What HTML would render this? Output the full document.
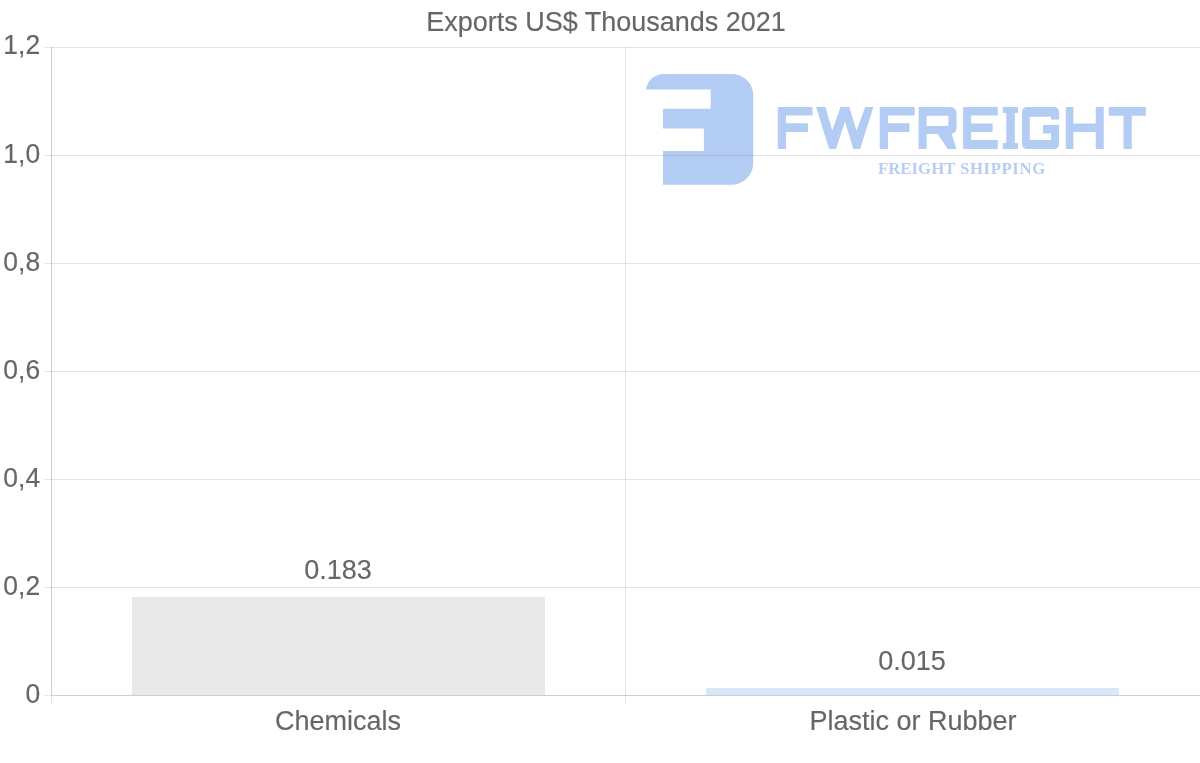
<!DOCTYPE html>
<html>
<head>
<meta charset="utf-8">
<title>Exports US$ Thousands 2021</title>
<style>
  html, body { margin: 0; padding: 0; background: #ffffff; }
  body { width: 1200px; height: 763px; position: relative; overflow: hidden;
         font-family: "Liberation Sans", sans-serif; color: #666666; }
  .t { position: absolute; white-space: nowrap; font-size: 27px; line-height: 30px; color: #666666; will-change: transform; -webkit-text-stroke: 0.15px #666666; }
  .yl { left: 0; width: 40.2px; text-align: right; font-size: 26.5px; transform: scaleY(1.03); transform-origin: 50% 80%; }
  .c { transform: translateX(-50%); }
  svg { position: absolute; left: 0; top: 0; }
  .sub { position: absolute; left: 878px; top: 157.5px; font-family: "Liberation Serif", serif; font-weight: bold;
          font-size: 16.8px; line-height: 22px; color: #b8cdf3; white-space: nowrap; letter-spacing: 0px; will-change: transform; }
</style>
</head>
<body>

<!-- watermark logo (under grid) -->
<svg width="1200" height="763" viewBox="0 0 1200 763">
  <g fill="#b3ccf4">
    <path d="M646.2,89.4 C647.2,80.6 654.6,74.1 663.6,74.1 H731.8 C743.6,74.1 753.3,83.6 753.3,95.4 V162.4 C753.3,174.7 743.6,184.7 731.6,184.7 H663 V150.9 H703.9 V128.6 H663 V108.8 H710.7 V89.4 Z"/>
    <path fill-rule="evenodd" d="M777.8,106.9H812.5V115.5H786.0V123.3H807.9V132.1H786.0V148.9H777.8Z M816.1,106.9L825.5,106.9L832.2,130.6L840.6,106.9L849.3,106.9L856.5,130.6L865.2,106.9L873.4,106.9L860.1,148.9L853.3,148.9L845.0,121.6L836.0,148.9L829.1,148.9Z M879.7,106.9H914.7V115.5H888.0V123.3H909.5V132.1H888.0V148.9H879.7Z M918.6,106.9H949.6Q956.6,106.9 956.6,113.9V127.4Q956.6,132.6 951.6,133.8L956.5,148.9H947.8L937.6,134.1H926.6V148.9H918.6ZM926.6,115.8V125.9H947.4Q948.4,125.9 948.4,124.9V116.8Q948.4,115.8 947.4,115.8Z M963.1,106.9H997.8V115.4H971.1V123.6H992.6V131.9H971.1V140.1H997.8V148.9H963.1Z M1002.8,106.9H1018V113H1014.8V143.1H1018V148.9H1002.8V143.1H1006.3V113H1002.8Z M1027.5,106.9H1053.6Q1059.1,106.9 1059.1,112.4V119.5H1051V116.7H1029.8V139.9H1051V133.5H1043V124.9H1059.1V143.4Q1059.1,148.9 1053.6,148.9H1027.5Q1022,148.9 1022,143.4V112.4Q1022,106.9 1027.5,106.9Z M1065.8,106.9H1073.4V123.5H1095.7V106.9H1103.7V148.9H1095.7V132.1H1073.4V148.9H1065.8Z M1108.8,106.9H1145.9V115.7H1131.8V148.9H1123.5V115.7H1108.8Z"/>
  </g>
</svg>
<div class="sub">FREIGHT <span style="letter-spacing:0.57px; margin-left:0.8px;">SHIPPING</span></div>

<!-- grid, axes, bars -->
<svg width="1200" height="763" viewBox="0 0 1200 763" shape-rendering="crispEdges">
  <g fill="#000000" fill-opacity="0.1">
    <rect x="44" y="47" width="1156" height="1"/>
    <rect x="44" y="155" width="1156" height="1"/>
    <rect x="44" y="263" width="1156" height="1"/>
    <rect x="44" y="371" width="1156" height="1"/>
    <rect x="44" y="479" width="1156" height="1"/>
    <rect x="44" y="587" width="1156" height="1"/>
    <rect x="44" y="695" width="7" height="1"/>
    <rect x="625" y="47" width="1" height="657"/>
    <rect x="51" y="696" width="1" height="8"/>
  </g>
  <g fill="#000000" fill-opacity="0.19">
    <rect x="51" y="47" width="1" height="649"/>
    <rect x="52" y="695" width="1148" height="1"/>
  </g>
  <rect x="132" y="597" width="413" height="98" fill="#e8e8e8"/>
  <rect x="706" y="688" width="413" height="7" fill="#d7e8fb"/>
</svg>

<!-- title -->
<div class="t c" style="left:606px; top:6.5px;">Exports US$ Thousands 2021</div>

<!-- y labels -->
<div class="t yl" style="top:30.2px;">1,2</div>
<div class="t yl" style="top:139.2px;">1,0</div>
<div class="t yl" style="top:247.2px;">0,8</div>
<div class="t yl" style="top:355.2px;">0,6</div>
<div class="t yl" style="top:463.2px;">0,4</div>
<div class="t yl" style="top:571.2px;">0,2</div>
<div class="t yl" style="top:679.2px;">0</div>

<!-- value labels -->
<div class="t c" style="left:338px; top:554.9px;">0.183</div>
<div class="t c" style="left:912.1px; top:645.7px;">0.015</div>

<!-- x labels -->
<div class="t c" style="left:338.2px; top:706.2px;">Chemicals</div>
<div class="t c" style="left:913.3px; top:706.2px;">Plastic or Rubber</div>

</body>
</html>
